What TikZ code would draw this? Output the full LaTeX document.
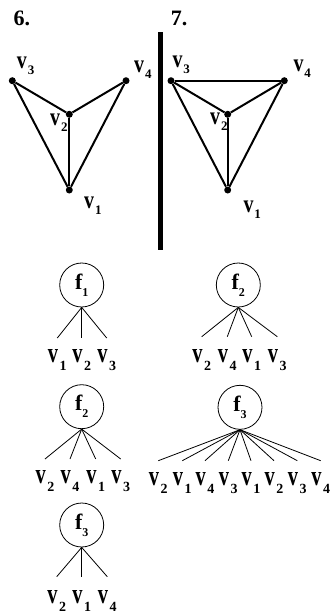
\documentclass[tikz,border=0pt]{standalone}
\usepackage{fontspec}
\setmainfont{Liberation Serif}
\usepackage{graphicx}
\usepackage{tikz}
\usetikzlibrary{positioning}

% labels with subscripts
\newcommand{\gv}[1]{{\bfseries\scalebox{0.95}[1.2]{\fontsize{21}{21}\selectfont v}\kern1pt\raisebox{-6pt}{\fontsize{13}{13}\selectfont #1}}}
\newcommand{\tv}[1]{{\bfseries\scalebox{0.85}[1.18]{\fontsize{24}{24}\selectfont v}\kern1.5pt\raisebox{-8pt}{\fontsize{14}{14}\selectfont #1}}}
\newcommand{\fv}[1]{{\fontsize{22}{22}\selectfont\bfseries f\raisebox{-7pt}{\fontsize{12}{12}\selectfont #1}}}

\tikzset{
    vdot/.style={circle, fill, minimum size=7pt, inner sep=0pt},
    gedge/.style={line width=2pt},
    glab/.style={anchor=base west, inner sep=0pt},
    face/.style={circle, draw, line width=0.8pt, minimum size=44pt, inner sep=0pt},
    leg/.style={line width=0.8pt},
    tlab/.style={anchor=base, inner sep=0pt},
    heading/.style={anchor=base west, inner sep=0pt, font=\fontsize{22}{22}\selectfont\bfseries}
}

\begin{document}
\begin{tikzpicture}[x=1pt, y=-1pt]
    \useasboundingbox (0,0) rectangle (330,613);

    % Headings
    \node[heading] (h6) at (13.3,25) {6.};
    \node[heading] (h7) at (170.7,25.5) {7.};

    % Separator
    \draw[line width=5pt] (160.3,32) -- (160.3,250);

    % Graph 6
    \node[vdot] (a1) at (69.3,190) {};
    \node[vdot] (a2) at (69.3,114.3) {};
    \node[vdot] (a3) at (12.3,80.7) {};
    \node[vdot] (a4) at (126,80.7) {};
    \draw[gedge] (a3) -- (a2) -- (a4);
    \draw[gedge] (a3) -- (a1) -- (a4);
    \draw[gedge] (a2) -- (a1);
    \node[glab] (a3l) at (16.7,68) {\gv{3}};
    \node[glab] (a4l) at (134,72) {\gv{4}};
    \node[glab] (a2l) at (50,125) {\gv{2}};
    \node[glab] (a1l) at (84,208) {\gv{1}};

    % Graph 7
    \node[vdot] (b1) at (227.7,190) {};
    \node[vdot] (b2) at (227.7,114.3) {};
    \node[vdot] (b3) at (171,80.7) {};
    \node[vdot] (b4) at (284.3,80.7) {};
    \draw[gedge] (b3) -- (b2) -- (b4);
    \draw[gedge] (b3) -- (b1) -- (b4);
    \draw[gedge] (b2) -- (b1);
    \draw[gedge] (b3) -- (b4);
    \node[glab] (b3l) at (172.3,67) {\gv{3}};
    \node[glab] (b4l) at (293.3,71) {\gv{4}};
    \node[glab] (b2l) at (210,124) {\gv{2}};
    \node[glab] (b1l) at (243.3,212) {\gv{1}};

    % Face trees, left column
    \node[face] (p1) at (81.7,285) {\fv{1}};
    \foreach \x/\k [count=\i] in {57.3/1, 81.7/2, 106.7/3} {
        \coordinate (p1e\i) at (\x,338);
        \draw[leg] (p1.south) -- (p1e\i);
        \node[tlab] (p1v\i) at (\x,362) {\tv{\k}};
    }

    \node[face] (p2) at (81.7,406.7) {\fv{2}};
    \foreach \x/\k [count=\i] in {45/2, 70/4, 95.7/1, 120.7/3} {
        \coordinate (p2e\i) at (\x,459);
        \draw[leg] (p2.south) -- (p2e\i);
        \node[tlab] (p2v\i) at (\x,483) {\tv{\k}};
    }

    \node[face] (p3) at (81.7,525) {\fv{3}};
    \foreach \x/\k [count=\i] in {56.7/2, 81.7/1, 107.3/4} {
        \coordinate (p3e\i) at (\x,576.7);
        \draw[leg] (p3.south) -- (p3e\i);
        \node[tlab] (p3v\i) at (\x,603) {\tv{\k}};
    }

    % Face trees, right column
    \node[face] (q2) at (238.3,285) {\fv{2}};
    \foreach \x/\k [count=\i] in {201.7/2, 227.3/4, 251.7/1, 277.3/3} {
        \coordinate (q2e\i) at (\x,336.7);
        \draw[leg] (q2.south) -- (q2e\i);
        \node[tlab] (q2v\i) at (\x,362) {\tv{\k}};
    }

    \node[face] (q3) at (240,407.3) {\fv{3}};
    \foreach \x/\k [count=\i] in {158.3/2, 182.3/1, 205/4, 228.3/3, 251/1, 274/2, 297.3/3, 320.7/4} {
        \coordinate (q3e\i) at (\x,460.7);
        \draw[leg] (q3.south) -- (q3e\i);
        \node[tlab] (q3v\i) at (\x,485) {\tv{\k}};
    }
\end{tikzpicture}
\end{document}
